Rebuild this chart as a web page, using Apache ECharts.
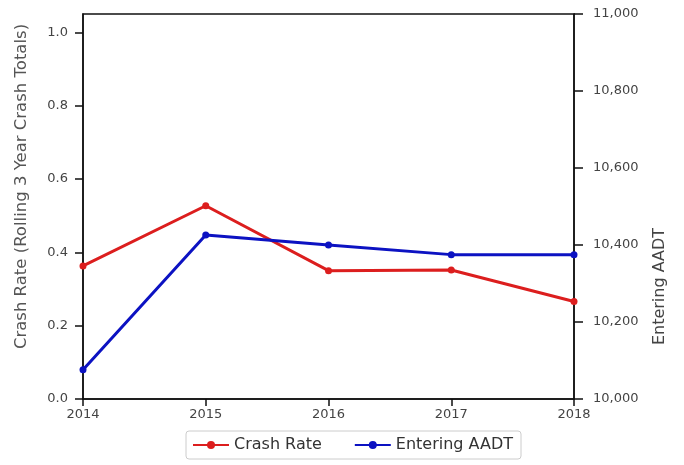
<!DOCTYPE html>
<html>
<head>
<meta charset="utf-8">
<script src="https://cdn.jsdelivr.net/npm/echarts@6/dist/echarts.min.js"></script>
<style>
  html, body { margin: 0; padding: 0; background: #fff; }
  #chart { width: 684px; height: 465px; }
</style>
</head>
<body>
<div id="chart"></div>
<script>
// Years on the shared x axis
const years = ['2014', '2015', '2016', '2017', '2018'];
// Crash rate, rolling 3-year crash totals (left axis)
const crashRate = [0.363, 0.527, 0.350, 0.352, 0.266];
// Entering AADT (right axis)
const enteringAADT = [10076, 10426, 10400, 10375, 10375];
// Tick values for each y axis
const rateTicks = [0, 0.2, 0.4, 0.6, 0.8, 1.0];
const aadtTicks = [10000, 10200, 10400, 10600, 10800, 11000];

const FONT = 'DejaVu Sans';
const chart = echarts.init(document.getElementById('chart'));

chart.setOption({
  animation: false,
  textStyle: { fontFamily: FONT },
  grid: {
    left: 83, right: 110, top: 14, bottom: 66,
    show: true, borderColor: '#111', borderWidth: 1.5
  },
  legend: {
    left: 186, top: 431,
    padding: [6, 8, 6, 6],
    itemGap: 32, itemWidth: 36, itemHeight: 10,
    borderColor: '#ccc', borderWidth: 1, borderRadius: 3,
    textStyle: { fontFamily: FONT, fontSize: 16, color: '#333' },
    data: ['Crash Rate', 'Entering AADT']
  },
  xAxis: {
    type: 'category',
    data: years,
    boundaryGap: false,
    axisLine: { lineStyle: { color: '#111', width: 1.5 } },
    axisTick: { show: true, length: 7, lineStyle: { color: '#111', width: 1.5 } },
    axisLabel: { color: '#444', fontSize: 13, margin: 9 },
    splitLine: { show: false }
  },
  yAxis: [
    {
      type: 'value', min: 0, max: 1.05, interval: 0.2,
      name: 'Crash Rate (Rolling 3 Year Crash Totals)',
      nameLocation: 'middle', nameGap: 53,
      nameTextStyle: { fontFamily: FONT, fontSize: 16.5, color: '#555', padding: [0, 0, 0, 40] },
      axisLine: { show: true, lineStyle: { color: '#111', width: 1.5 } },
      axisTick: { show: true, length: 8, customValues: rateTicks, lineStyle: { color: '#111', width: 1.5 } },
      axisLabel: {
        color: '#444', fontSize: 13, margin: 15,
        customValues: rateTicks,
        formatter: v => v.toFixed(1)
      },
      splitLine: { show: false }
    },
    {
      type: 'value', min: 10000, max: 11000, interval: 200,
      position: 'right',
      name: 'Entering AADT',
      nameLocation: 'middle', nameGap: 78,
      nameTextStyle: { fontFamily: FONT, fontSize: 16, color: '#444', padding: [0, 160, 0, 0] },
      axisLine: { show: true, lineStyle: { color: '#111', width: 1.5 } },
      axisTick: { show: true, length: 9, customValues: aadtTicks, lineStyle: { color: '#111', width: 1.5 } },
      axisLabel: {
        color: '#444', fontSize: 13, margin: 19,
        customValues: aadtTicks,
        formatter: v => v.toLocaleString('en-US')
      },
      splitLine: { show: false }
    }
  ],
  series: [
    {
      name: 'Crash Rate', type: 'line', yAxisIndex: 0,
      data: crashRate,
      symbol: 'circle', symbolSize: 7,
      lineStyle: { color: '#dc1e1e', width: 3 },
      itemStyle: { color: '#dc1e1e' }
    },
    {
      name: 'Entering AADT', type: 'line', yAxisIndex: 1,
      data: enteringAADT,
      symbol: 'circle', symbolSize: 7,
      lineStyle: { color: '#0c12c2', width: 3 },
      itemStyle: { color: '#0c12c2' }
    }
  ]
});
</script>
</body>
</html>
